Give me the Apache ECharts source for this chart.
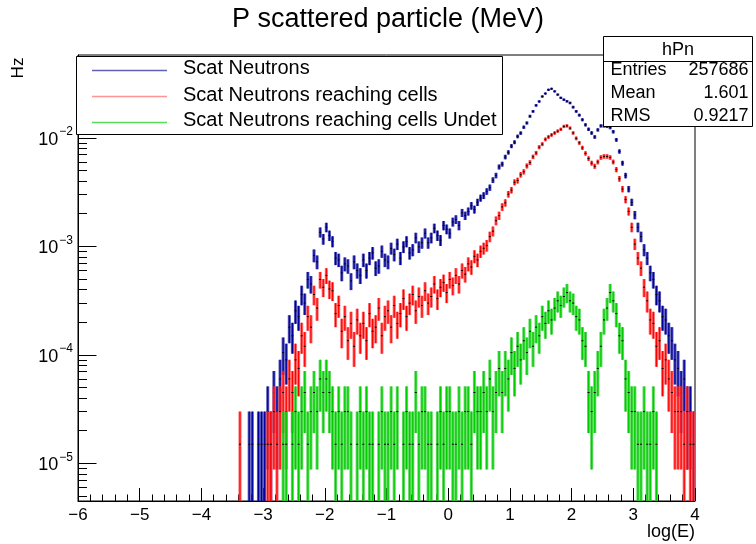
<!DOCTYPE html>
<html><head><meta charset="utf-8">
<script src="https://cdn.jsdelivr.net/npm/echarts@6/dist/echarts.min.js"></script>
<style>html,body{margin:0;padding:0;background:#fff}#c{width:756px;height:544px}</style>
</head><body><div id="c"></div>
<script>
const FONT = '"Liberation Sans", Arial, Helvetica, sans-serif';

// ---- data (counts per bin; 1 count = hzPerCount Hz) ----
const binStart = -3.4;
const binWidth = 0.05;
const hzPerCount = 1.5e-5;

const blueCounts = [
  0,0,0,1,1,0,1,1,1,2,
  1,3,2,4,7,6,12,10,17,15,
  24,20,33,30,55,48,90,78,100,84,
  74,52,50,38,46,44,32,48,40,36,
  50,40,52,58,42,44,60,50,48,64,
  56,70,52,66,74,58,62,80,66,72,
  88,72,80,98,84,76,104,96,88,112,
  118,104,136,128,140,158,146,170,186,196,
  214,232,272,300,360,382,444,490,560,608,
  688,738,836,915,1055,1170,1330,1445,1605,1710,
  1850,1890,1790,1670,1560,1500,1450,1400,1280,1170,
  1080,980,880,800,740,680,790,860,860,850,
  830,760,640,500,390,300,225,170,130,100,
  82,62,52,38,33,24,21,15,14,10,
  9,6,5,3,4,2,2,1
];
const redCounts = [
  1,0,0,0,0,0,0,0,0,1,
  1,2,1,2,3,2,4,3,6,5,
  10,8,15,12,24,18,33,28,36,27,
  26,16,19,11,15,9,13,8,14,10,
  13,9,16,11,12,18,10,15,17,12,
  19,13,16,22,15,20,24,17,23,19,
  26,20,23,30,22,28,31,25,33,29,
  36,30,40,37,46,43,54,50,60,64,
  68,82,92,115,128,154,168,202,220,260,
  270,305,325,368,395,446,484,548,584,646,
  680,710,740,770,800,850,860,820,740,660,
  600,540,480,430,390,365,400,440,450,450,
  440,400,340,280,225,180,140,100,70,52,
  42,28,21,14,13,8,9,5,6,4,
  3,2,2,2,1,2,1,1
];
const greenCounts = [
  0,0,0,0,0,0,0,0,0,0,
  0,0,0,0,1,1,0,1,2,1,
  2,3,1,2,3,2,4,3,4,3,
  2,1,2,1,2,2,1,0,1,2,
  1,2,1,1,0,1,2,1,1,2,
  1,2,0,1,2,1,1,3,1,2,
  2,1,1,0,1,2,1,2,2,1,
  1,2,1,2,2,1,3,2,2,3,
  2,4,2,3,5,3,5,4,7,5,
  8,6,9,7,11,8,12,10,15,13,
  17,14,18,21,19,23,25,21,20,15,
  14,9,8,3,2,3,5,8,14,18,
  25,21,16,10,9,4,3,2,2,1,
  1,2,1,1,2,1,0,0,0,0,
  0,0,0,0,0,0,0,0
];

const seriesNames = ['Scat Neutrons', 'Scat Neutrons reaching cells', 'Scat Neutrons reaching cells Undet'];
const seriesColors = ['#000099', '#ff0000', '#00cc00'];
const haloColors = ['rgba(45,45,165,0.8)', 'rgba(255,70,70,0.8)', 'rgba(50,210,50,0.8)'];
const legendLineColors = ['#6262b4', '#ff9494', '#55dd55'];

const xMin = -6, xMax = 4;
const yDecades = [-5, -4, -3, -2];   // log10 of tick values
const yLogMin = -5.347, yLogMax = -1.236;
const statsTitle = 'hPn';
const statLabels = ['Entries', 'Mean', 'RMS'];
const statValues = ['257686', '1.601', '0.9217'];

// minor ticks of the log axis: 2..9 x 10^d
const minorTicks = [];
for (let d = -6; d <= -2; d++) for (let k = 2; k <= 9; k++) {
  const l = Math.log10(k) + d;
  if (l > yLogMin && l < yLogMax) minorTicks.push(l);
}

function errSeries(idx, counts) {
  const color = seriesColors[idx], halo = haloColors[idx];
  return {
    type: 'custom', name: seriesNames[idx], clip: true, silent: true, animation: false,
    xAxisIndex: 0, yAxisIndex: 0, z: 2 + idx,
    data: counts.map((n, i) => [binStart + (i + 0.5) * binWidth, n]),
    renderItem: (params, api) => {
      const x = api.value(0), n = api.value(1);
      if (!(n > 0)) return null;
      const v = n * hzPerCount, e = Math.sqrt(n) * hzPerCount;
      const lo = Math.max(Math.log10(Math.max(v - e, 1e-12)), yLogMin - 0.2);
      const hi = Math.log10(v + e), c = Math.log10(v);
      const pL = api.coord([x - binWidth / 2, lo]);
      const pR = api.coord([x + binWidth / 2, hi]);
      const pc = api.coord([x, c]);
      const h = pL[1] - pR[1];
      return { type: 'group', children: [
        { type: 'rect', shape: { x: pL[0], y: pR[1], width: pR[0] - pL[0], height: h }, style: { fill: halo } },
        { type: 'rect', shape: { x: pc[0] - 0.6, y: pR[1], width: 1.2, height: h }, style: { fill: color } },
        { type: 'rect', shape: { x: pc[0] - 1, y: pc[1] - 0.5, width: 2, height: 1 }, style: { fill: '#000' } }
      ]};
    }
  };
}

const chart = echarts.init(document.getElementById('c'), null, { renderer: 'canvas' });

const graphics = [];
// title
graphics.push({ type: 'text', x: 232, y: 20, z: 100, style: { text: 'P scattered particle (MeV)', fontSize: 27, fontFamily: FONT, fill: '#000', textAlign: 'left', textVerticalAlign: 'middle' } });
// legend box
graphics.push({ type: 'rect', z: 100, shape: { x: 76.5, y: 56.5, width: 426, height: 78 }, style: { fill: '#fff', stroke: '#000', lineWidth: 1 } });
const legY = [68.5, 95, 120.5], legLineY = [70.5, 96.5, 122.5];
seriesNames.forEach((nm, i) => {
  graphics.push({ type: 'line', z: 101, shape: { x1: 92, y1: legLineY[i], x2: 167, y2: legLineY[i] }, style: { stroke: legendLineColors[i], lineWidth: 1.5 } });
  graphics.push({ type: 'text', z: 101, x: 183, y: legY[i], style: { text: nm, fontSize: 20, fontFamily: FONT, fill: '#000', textAlign: 'left', textVerticalAlign: 'middle' } });
});
// stats box
graphics.push({ type: 'rect', z: 100, shape: { x: 603.5, y: 36.5, width: 149, height: 90 }, style: { fill: '#fff', stroke: '#000', lineWidth: 1 } });
graphics.push({ type: 'line', z: 101, shape: { x1: 603.5, y1: 61.5, x2: 752.5, y2: 61.5 }, style: { stroke: '#000', lineWidth: 1 } });
graphics.push({ type: 'text', z: 101, x: 678, y: 50, style: { text: statsTitle, fontSize: 18, fontFamily: FONT, fill: '#000', textAlign: 'center', textVerticalAlign: 'middle' } });
const statY = [70.5, 93.5, 116];
statLabels.forEach((lb, i) => {
  graphics.push({ type: 'text', z: 101, x: 610.5, y: statY[i], style: { text: lb, fontSize: 18, fontFamily: FONT, fill: '#000', textAlign: 'left', textVerticalAlign: 'middle' } });
  graphics.push({ type: 'text', z: 101, x: 748.5, y: statY[i], style: { text: statValues[i], fontSize: 18, fontFamily: FONT, fill: '#000', textAlign: 'right', textVerticalAlign: 'middle' } });
});
// axis titles
graphics.push({ type: 'text', z: 100, x: 18, y: 68, rotation: Math.PI / 2, style: { text: 'Hz', fontSize: 17, fontFamily: FONT, fill: '#000', textAlign: 'center', textVerticalAlign: 'middle' } });
graphics.push({ type: 'text', z: 100, x: 695, y: 532, style: { text: 'log(E)', fontSize: 18, fontFamily: FONT, fill: '#000', textAlign: 'right', textVerticalAlign: 'middle' } });

const minus = s => String(s).replace('-', '\u2212');

chart.setOption({
  backgroundColor: '#fff',
  animation: false,
  grid: { left: 78, right: 61, top: 55, bottom: 43, show: true, borderColor: '#000', borderWidth: 1, backgroundColor: 'transparent' },
  xAxis: [{
    type: 'value', min: xMin, max: xMax, interval: 1,
    axisLine: { show: true, onZero: false, lineStyle: { color: '#000', width: 1 } },
    axisTick: { show: true, inside: true, length: 13, lineStyle: { color: '#000' } },
    minorTick: { show: true, splitNumber: 5, length: 6.5, lineStyle: { color: '#000' } },
    splitLine: { show: false },
    axisLabel: { margin: 6, fontSize: 17, fontFamily: FONT, color: '#000', formatter: v => minus(v) }
  }],
  yAxis: [{
    type: 'value', min: yLogMin, max: yLogMax, position: 'left',
    axisLine: { show: true, onZero: false, lineStyle: { color: '#000', width: 1 } },
    axisTick: { show: true, inside: true, length: 18.5, customValues: yDecades, lineStyle: { color: '#000' } },
    splitLine: { show: false },
    axisLabel: {
      customValues: yDecades, margin: 5,
      formatter: v => '{b|10}{s|' + minus(v) + '}',
      rich: {
        b: { fontSize: 18, fontFamily: FONT, color: '#000', lineHeight: 22, verticalAlign: 'bottom' },
        s: { fontSize: 12, fontFamily: FONT, color: '#000', lineHeight: 12, verticalAlign: 'bottom', padding: [0, 0, 11, 1] }
      }
    }
  }, {
    type: 'value', min: yLogMin, max: yLogMax, position: 'left',
    axisLine: { show: false, onZero: false },
    axisTick: { show: true, inside: true, length: 9, customValues: minorTicks, lineStyle: { color: '#000' } },
    axisLabel: { show: false, customValues: minorTicks },
    splitLine: { show: false }
  }],
  series: [errSeries(0, blueCounts), errSeries(1, redCounts), errSeries(2, greenCounts)],
  graphic: { elements: graphics }
});
</script>
</body></html>
